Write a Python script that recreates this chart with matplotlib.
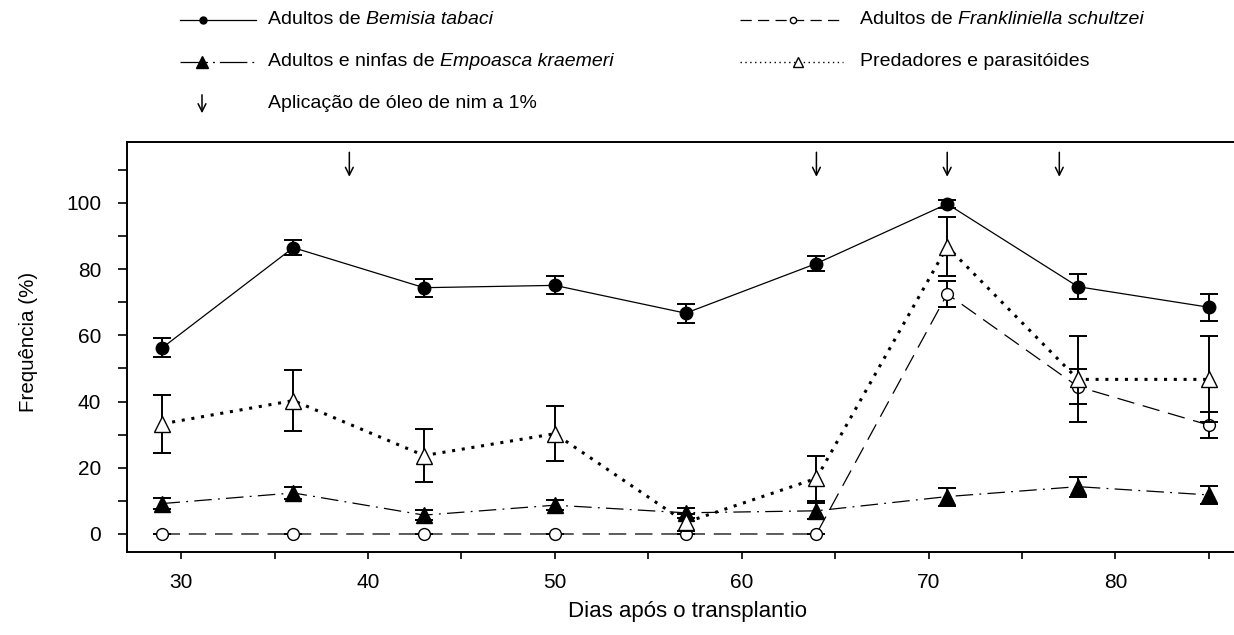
import matplotlib
matplotlib.use("Agg")
import matplotlib.pyplot as plt
from matplotlib.lines import Line2D
import numpy as np

plt.rcParams['font.family'] = ['Liberation Sans', 'DejaVu Sans']

# ---------------- data ----------------
dias = [29, 36, 43, 50, 57, 64, 71, 78, 85]

bemisia = [56.3, 86.5, 74.4, 75.1, 66.7, 81.7, 99.7, 74.7, 68.5]
bemisia_err = [2.9, 2.2, 2.7, 2.7, 2.9, 2.3, 1.1, 3.8, 4.1]

frankliniella = [0, 0, 0, 0, 0, 0, 72.5, 44.5, 32.9]
frankliniella_err = [0, 0, 0, 0, 0, 0, 3.8, 5.2, 4.0]

empoasca = [9.2, 12.4, 5.7, 8.7, 6.4, 7.0, 11.3, 14.3, 11.8]
empoasca_err = [1.6, 1.7, 1.4, 1.6, 1.5, 2.5, 2.7, 3.0, 2.6]

predadores = [33.3, 40.3, 23.7, 30.3, 3.5, 16.8, 86.8, 46.7, 46.7]
predadores_err = [8.7, 9.1, 7.9, 8.4, 2.5, 6.7, 9.0, 13.0, 13.0]

aplicacao_dias = [39, 64, 71, 77]

labels_pre = ["Adultos de ", "Adultos de ", "Adultos e ninfas de ", ""]
labels_it = ["Bemisia tabaci", "Frankliniella schultzei", "Empoasca kraemeri", ""]
label_pred = "Predadores e parasitóides"
label_arrow = "Aplicação de óleo de nim a 1%"

xticks_major = [30, 40, 50, 60, 70, 80]
yticks_major = [0, 20, 40, 60, 80, 100]

# ---------------- figure ----------------
W, H = 1234, 635
fig = plt.figure(figsize=(W / 100, H / 100), dpi=100)
ax = fig.add_axes([127 / W, (H - 551.7) / H, 1.0 - 127 / W, (551.7 - 141.7) / H])

ax.set_xlim(27.1, 86.35)
ax.set_ylim(-5.35, 118.5)

cap = 6.5
elw = 1.4

styles = {
    'bem': dict(color='black', linestyle='-', lw=0.9, marker='o', ms=9,
                mfc='black', mec='black'),
    'fra': dict(color='black', linestyle=(0, (14, 7)), lw=0.9, marker='o', ms=8.5,
                mfc='white', mec='black', mew=1.0),
    'emp': dict(color='black', linestyle=(0, (14, 5, 1.5, 5)), lw=0.9, marker='^',
                ms=11.5, mfc='black', mec='black'),
    'pre': dict(color='black', linestyle=(0, (1, 2.2)), lw=2.2, marker='^', ms=11.5,
                mfc='white', mec='black', mew=1.0),
}

def draw(y, e, st, z):
    ax.errorbar(dias, y, yerr=e, fmt='none', ecolor='black', elinewidth=elw,
                capsize=cap, capthick=elw, zorder=z)
    ax.plot(dias, y, zorder=z + 0.5, **st)

draw(frankliniella, frankliniella_err, styles['fra'], 2)
draw(empoasca, empoasca_err, styles['emp'], 3)
draw(predadores, predadores_err, styles['pre'], 4)
draw(bemisia, bemisia_err, styles['bem'], 5)

# arrows for neem oil applications
for d in aplicacao_dias:
    ax.annotate('', xy=(d, 107.9), xytext=(d, 115.3),
                arrowprops=dict(arrowstyle='->', lw=1.1, color='black',
                                mutation_scale=14, shrinkA=0, shrinkB=0))

# axes styling
ax.spines['right'].set_visible(False)
for s in ['left', 'bottom', 'top']:
    ax.spines[s].set_linewidth(1.4)
ax.set_xticks(np.arange(30, 86, 5))
ax.set_xticklabels([str(t) if t in xticks_major else '' for t in np.arange(30, 86, 5)])
ax.set_yticks(np.arange(0, 111, 10))
ax.set_yticklabels([str(t) if t in yticks_major else '' for t in np.arange(0, 111, 10)])
ax.tick_params(axis='both', direction='out', length=6.5, width=1.2, labelsize=15)
ax.tick_params(axis='y', pad=12)
ax.tick_params(axis='x', pad=10, length=5)

fig.text(688 / W, 1 - 612 / H, "Dias após o transplantio", fontsize=16,
         ha='center', va='center')
fig.text(28 / W, 1 - 342 / H, "Frequência (%)", fontsize=14.8, rotation=90,
         ha='center', va='center')

# ---------------- legend (manual) ----------------
def fx(px):
    return px / W

def fy(py):
    return 1 - py / H

renderer = fig.canvas.get_renderer()

def label(x, y, pre, it, size=14):
    t = fig.text(fx(x), fy(y), pre, fontsize=size, ha='left', va='center')
    if it:
        bb = t.get_window_extent(renderer=renderer)
        fig.text(bb.x1 / W, fy(y), it, fontsize=size, ha='left', va='center',
                 style='italic')

# row 1 left: Bemisia
fig.add_artist(Line2D([fx(180), fx(256)], [fy(20), fy(20)], color='black', lw=0.9))
fig.add_artist(Line2D([fx(203)], [fy(20)], marker='o', ms=5, color='black'))
label(268, 20, labels_pre[0], labels_it[0])

# row 1 right: Frankliniella
fig.add_artist(Line2D([fx(740), fx(843)], [fy(20), fy(20)], color='black', lw=0.9,
                      linestyle=(0, (9, 5))))
fig.add_artist(Line2D([fx(793)], [fy(20)], marker='o', ms=4.5, mfc='white',
                      mec='black', color='black'))
label(860, 20, labels_pre[1], labels_it[1])

# row 2 left: Empoasca
fig.add_artist(Line2D([fx(180), fx(256)], [fy(62), fy(62)], color='black', lw=0.9,
                      linestyle=(0, (22, 4, 1.5, 4))))
fig.add_artist(Line2D([fx(202)], [fy(62)], marker='^', ms=8, color='black'))
label(268, 62, labels_pre[2], labels_it[2])

# row 2 right: Predadores
fig.add_artist(Line2D([fx(740), fx(843)], [fy(62), fy(62)], color='black', lw=1.0,
                      linestyle=(0, (1, 2.5))))
fig.add_artist(Line2D([fx(798)], [fy(62)], marker='^', ms=7, mfc='white',
                      mec='black', color='black'))
label(860, 62, label_pred, "")

# row 3: arrow
fig.add_artist(matplotlib.patches.FancyArrowPatch((fx(202), fy(92)), (fx(202), fy(116)),
                                                  transform=fig.transFigure,
                                                  arrowstyle='->', mutation_scale=14,
                                                  lw=1.1, color='black'))
label(268, 103, label_arrow, "")

fig.savefig("out.png", dpi=100)
